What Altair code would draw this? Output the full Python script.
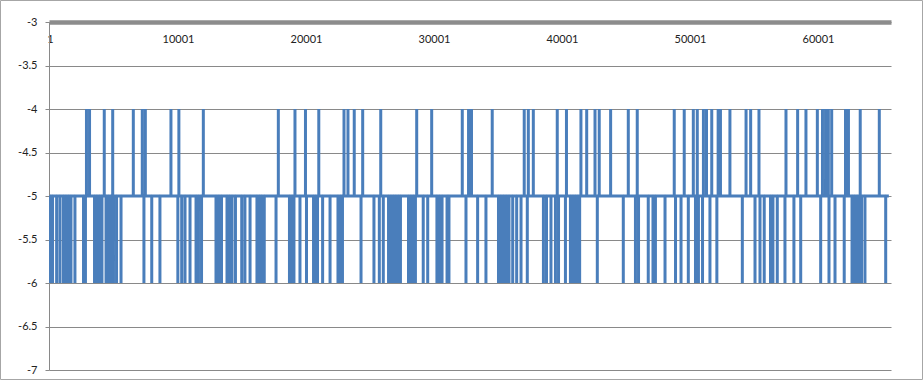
import altair as alt
import pandas as pd

# ---- data ----
n_points = 65536
baseline_value = -5
up_value = -4
down_value = -6

# indices where the series jumps up to -4
up_spikes = [
    2850, 3090, 4240, 4900, 6510, 7210, 7450, 9450, 10070, 11980,
    17840, 19140, 19960, 21000, 22970, 23280, 23770, 24430, 25840, 28650,
    29820, 32210, 32700, 32930, 34550, 37050, 37370, 37760, 39630, 40350,
    41480, 41930, 42580, 42910, 43800, 45180, 45880, 48770, 49550, 50260,
    50570, 51050, 51290, 51700, 52200, 52380, 53120, 54380, 54740, 55390,
    57500, 58410, 59060, 59950, 60350, 60590, 60810, 61070, 62150, 62380,
    63300, 64790,
]

# indices where the series drops to -6
down_spikes = [
    20, 200, 520, 780, 1050, 1250, 1450, 1640, 1950, 2620, 2770,
    3480, 3670, 3870, 4060, 4380, 4570, 4770, 4960, 5200, 5550,
    7340, 7950, 8590, 9990, 10290, 10550, 10940, 11410, 11600, 11840,
    12970, 13200, 13400, 13830, 14020, 14220, 14490, 14980, 15230, 15630,
    16170, 16370, 16520, 16740, 17660, 18710, 18910, 19060, 19530, 20040,
    20590, 20740, 20900, 21300, 21880, 22500, 22700, 22850, 24300, 25310,
    25730, 26040, 26450, 26640, 26840, 27030, 27230, 27380, 28010, 28200,
    28400, 28550, 29160, 29510, 30230, 30430, 30630, 31020, 31170, 32500,
    33410, 34060, 35040, 35230, 35430, 35630, 35860, 36150, 36460, 36800,
    37290, 38550, 38790, 39140, 39490, 39730, 40270, 40660, 40860, 41050,
    41250, 41380, 42760, 44790, 45740, 45980, 46740, 47110, 47300, 48050,
    48870, 49300, 49870, 50430, 50660, 50980, 51560, 52100, 54090, 55080,
    55470, 55800, 56290, 56480, 56820, 57420, 58120, 58650, 60210, 60860,
    61330, 62050, 62660, 62850, 63050, 63240, 63400, 63670, 65290,
]

x_tick_values = [1, 10001, 20001, 30001, 40001, 50001, 60001]
y_tick_values = [-7, -6.5, -6, -5.5, -5, -4.5, -4, -3.5, -3]

# ---- build the series table ----
events = sorted([(i, up_value) for i in up_spikes] + [(i, down_value) for i in down_spikes])
xs = [1]
ys = [baseline_value]
for i, v in events:
    xs += [i - 1, i, i + 1]
    ys += [baseline_value, v, baseline_value]
xs.append(n_points)
ys.append(baseline_value)
df = pd.DataFrame({"idx": xs, "val": ys})

W, H = 842, 348
FONT = "Lato"
GRAY = "#898989"

line = alt.Chart(df).mark_line(
    color="#4A7EBB", strokeWidth=3, strokeJoin="bevel", clip=True
).encode(
    x=alt.X(
        "idx:Q",
        scale=alt.Scale(domain=[-77, 65704], nice=False, zero=False),
        axis=alt.Axis(
            orient="bottom", offset=-H, values=x_tick_values, title=None,
            grid=False, ticks=False, tickSize=0, labelPadding=11,
            labelExpr="'' + datum.value", labelFont=FONT, labelFontSize=11,
            labelColor="#222222", domainColor="#8C8C8C", domainWidth=4.5,
            labelBaseline="top", labelAlign="center", labelFlush=False,
        ),
    ),
    y=alt.Y(
        "val:Q",
        scale=alt.Scale(domain=[-7, -3], nice=False, zero=False),
        axis=alt.Axis(
            values=y_tick_values, title=None, grid=True, gridColor=GRAY,
            gridWidth=1, tickColor=GRAY, tickSize=4, domainColor=GRAY,
            labelPadding=8, labelExpr="'' + datum.value", labelFont=FONT,
            labelFontSize=11, labelColor="#222222", labelBaseline="middle",
            labelFlush=False,
        ),
    ),
)

border = alt.Chart(alt.Data(values=[{}])).mark_rect(
    fill=None, stroke="#A6A6A6", strokeWidth=1
).encode(
    x=alt.value(-48.5), x2=alt.value(W + 31.5),
    y=alt.value(-21.5), y2=alt.value(H + 9.5),
)

chart = alt.layer(line, border).properties(
    width=W, height=H,
    autosize=alt.AutoSizeParams(type="none"),
    padding={"left": 49, "top": 22, "right": 32, "bottom": 10},
    background="white",
).configure_view(stroke=None)

chart.save("out.html", embed_options={"renderer": "svg", "actions": False})
